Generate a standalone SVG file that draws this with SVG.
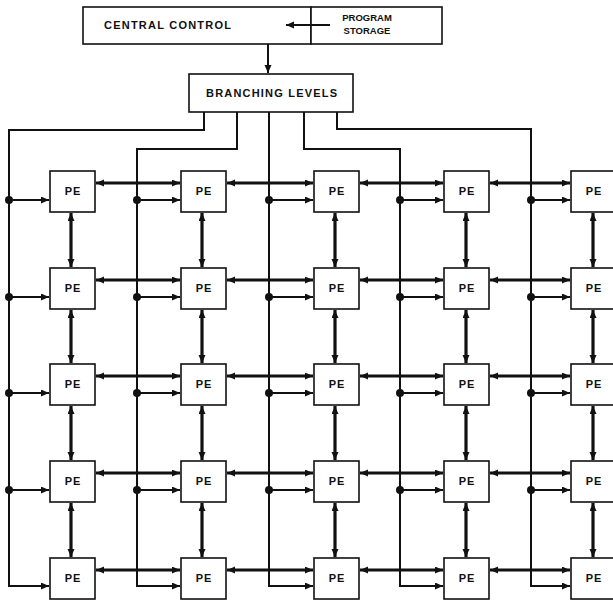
<svg xmlns="http://www.w3.org/2000/svg" width="613" height="601" viewBox="0 0 613 601">
  <defs>
    <marker id="arr" markerUnits="userSpaceOnUse" markerWidth="9" markerHeight="8" refX="8" refY="3.5" orient="auto-start-reverse">
      <path d="M0,0 L8,3.5 L0,7 z" fill="#111"/>
    </marker>
  </defs>
  <style>
    .box { fill: #fff; stroke: #111; stroke-width: 1.6; }
    .lbl { font-family: "Liberation Sans", Arial, sans-serif; font-weight: bold; fill: #111; }
    .pe { font-size: 11px; text-anchor: middle; letter-spacing: 1px; }
    .bus { fill: none; stroke: #111; stroke-width: 2; }
    .feed { fill: none; stroke: #111; stroke-width: 2; marker-end: url(#arr); }
    .link { fill: none; stroke: #111; stroke-width: 3.2; marker-start: url(#arr); marker-end: url(#arr); }
    .dot { fill: #111; }
  </style>
  <rect width="613" height="601" fill="#fff"/>

  <!-- control section -->
  <g id="central-control">
    <rect class="box" x="83" y="7" width="228" height="37"/>
    <text class="lbl" x="104" y="29" font-size="11" textLength="127" lengthAdjust="spacing">CENTRAL CONTROL</text>
  </g>
  <g id="program-storage">
    <rect class="box" x="311" y="7" width="131" height="37"/>
    <text class="lbl" x="367" y="21" font-size="9.5" text-anchor="middle">PROGRAM</text>
    <text class="lbl" x="367" y="34" font-size="9.5" text-anchor="middle">STORAGE</text>
  </g>
  <g id="branching-levels">
    <rect class="box" x="189" y="74" width="164" height="38"/>
    <text class="lbl" x="206" y="97" font-size="11" textLength="131" lengthAdjust="spacing">BRANCHING LEVELS</text>
  </g>

  <!-- connectors -->
  <g id="connectors">
    <line class="feed" x1="330" y1="25" x2="286" y2="25"/>
    <line class="feed" x1="268" y1="44" x2="268" y2="73"/>

    <!-- distribution buses -->
    <path class="bus" d="M204,112 V130 H9 V587"/>
    <path class="bus" d="M237,112 V149 H137 V587"/>
    <path class="bus" d="M269,112 V587"/>
    <path class="bus" d="M304,112 V149 H400 V587"/>
    <path class="bus" d="M337,112 V129 H531 V587"/>

    <!-- bus feeds into first PE of each column -->
    <g id="feeds">
      <path class="feed" d="M9,200 H49"/><path class="feed" d="M9,297 H49"/><path class="feed" d="M9,393 H49"/><path class="feed" d="M9,490 H49"/><path class="feed" d="M9,586 H49"/>
      <path class="feed" d="M137,200 H180"/><path class="feed" d="M137,297 H180"/><path class="feed" d="M137,393 H180"/><path class="feed" d="M137,490 H180"/><path class="feed" d="M137,586 H180"/>
      <path class="feed" d="M269,200 H313"/><path class="feed" d="M269,297 H313"/><path class="feed" d="M269,393 H313"/><path class="feed" d="M269,490 H313"/><path class="feed" d="M269,586 H313"/>
      <path class="feed" d="M400,200 H443"/><path class="feed" d="M400,297 H443"/><path class="feed" d="M400,393 H443"/><path class="feed" d="M400,490 H443"/><path class="feed" d="M400,586 H443"/>
      <path class="feed" d="M531,200 H570"/><path class="feed" d="M531,297 H570"/><path class="feed" d="M531,393 H570"/><path class="feed" d="M531,490 H570"/><path class="feed" d="M531,586 H570"/>
    </g>
    <g id="taps">
      <circle class="dot" cx="9" cy="200" r="4"/><circle class="dot" cx="9" cy="297" r="4"/><circle class="dot" cx="9" cy="393" r="4"/><circle class="dot" cx="9" cy="490" r="4"/>
      <circle class="dot" cx="137" cy="200" r="4"/><circle class="dot" cx="137" cy="297" r="4"/><circle class="dot" cx="137" cy="393" r="4"/><circle class="dot" cx="137" cy="490" r="4"/>
      <circle class="dot" cx="269" cy="200" r="4"/><circle class="dot" cx="269" cy="297" r="4"/><circle class="dot" cx="269" cy="393" r="4"/><circle class="dot" cx="269" cy="490" r="4"/>
      <circle class="dot" cx="400" cy="200" r="4"/><circle class="dot" cx="400" cy="297" r="4"/><circle class="dot" cx="400" cy="393" r="4"/><circle class="dot" cx="400" cy="490" r="4"/>
      <circle class="dot" cx="531" cy="200" r="4"/><circle class="dot" cx="531" cy="297" r="4"/><circle class="dot" cx="531" cy="393" r="4"/><circle class="dot" cx="531" cy="490" r="4"/>
    </g>

    <!-- horizontal neighbour links -->
    <g id="row-links">
      <line class="link" x1="96" y1="183" x2="180" y2="183"/><line class="link" x1="227" y1="183" x2="313" y2="183"/><line class="link" x1="360" y1="183" x2="443" y2="183"/><line class="link" x1="490" y1="183" x2="570" y2="183"/>
      <line class="link" x1="96" y1="280" x2="180" y2="280"/><line class="link" x1="227" y1="280" x2="313" y2="280"/><line class="link" x1="360" y1="280" x2="443" y2="280"/><line class="link" x1="490" y1="280" x2="570" y2="280"/>
      <line class="link" x1="96" y1="376" x2="180" y2="376"/><line class="link" x1="227" y1="376" x2="313" y2="376"/><line class="link" x1="360" y1="376" x2="443" y2="376"/><line class="link" x1="490" y1="376" x2="570" y2="376"/>
      <line class="link" x1="96" y1="473" x2="180" y2="473"/><line class="link" x1="227" y1="473" x2="313" y2="473"/><line class="link" x1="360" y1="473" x2="443" y2="473"/><line class="link" x1="490" y1="473" x2="570" y2="473"/>
      <line class="link" x1="96" y1="570" x2="180" y2="570"/><line class="link" x1="227" y1="570" x2="313" y2="570"/><line class="link" x1="360" y1="570" x2="443" y2="570"/><line class="link" x1="490" y1="570" x2="570" y2="570"/>
    </g>
    <!-- vertical neighbour links -->
    <g id="col-links">
      <line class="link" x1="71" y1="213" x2="71" y2="267"/><line class="link" x1="71" y1="310" x2="71" y2="363"/><line class="link" x1="71" y1="406" x2="71" y2="460"/><line class="link" x1="71" y1="503" x2="71" y2="557"/>
      <line class="link" x1="202" y1="213" x2="202" y2="267"/><line class="link" x1="202" y1="310" x2="202" y2="363"/><line class="link" x1="202" y1="406" x2="202" y2="460"/><line class="link" x1="202" y1="503" x2="202" y2="557"/>
      <line class="link" x1="335" y1="213" x2="335" y2="267"/><line class="link" x1="335" y1="310" x2="335" y2="363"/><line class="link" x1="335" y1="406" x2="335" y2="460"/><line class="link" x1="335" y1="503" x2="335" y2="557"/>
      <line class="link" x1="466" y1="213" x2="466" y2="267"/><line class="link" x1="466" y1="310" x2="466" y2="363"/><line class="link" x1="466" y1="406" x2="466" y2="460"/><line class="link" x1="466" y1="503" x2="466" y2="557"/>
      <line class="link" x1="593" y1="213" x2="593" y2="267"/><line class="link" x1="593" y1="310" x2="593" y2="363"/><line class="link" x1="593" y1="406" x2="593" y2="460"/><line class="link" x1="593" y1="503" x2="593" y2="557"/>
    </g>
  </g>

  <!-- processing elements, row by row -->
  <g id="pe-1-1"><rect class="box" x="50" y="171" width="45" height="41"/><text class="lbl pe" x="73" y="195">PE</text></g>
  <g id="pe-1-2"><rect class="box" x="181" y="171" width="45" height="41"/><text class="lbl pe" x="204" y="195">PE</text></g>
  <g id="pe-1-3"><rect class="box" x="314" y="171" width="45" height="41"/><text class="lbl pe" x="337" y="195">PE</text></g>
  <g id="pe-1-4"><rect class="box" x="444" y="171" width="45" height="41"/><text class="lbl pe" x="467" y="195">PE</text></g>
  <g id="pe-1-5"><rect class="box" x="571" y="171" width="45" height="41"/><text class="lbl pe" x="594" y="195">PE</text></g>

  <g id="pe-2-1"><rect class="box" x="50" y="268" width="45" height="41"/><text class="lbl pe" x="73" y="292">PE</text></g>
  <g id="pe-2-2"><rect class="box" x="181" y="268" width="45" height="41"/><text class="lbl pe" x="204" y="292">PE</text></g>
  <g id="pe-2-3"><rect class="box" x="314" y="268" width="45" height="41"/><text class="lbl pe" x="337" y="292">PE</text></g>
  <g id="pe-2-4"><rect class="box" x="444" y="268" width="45" height="41"/><text class="lbl pe" x="467" y="292">PE</text></g>
  <g id="pe-2-5"><rect class="box" x="571" y="268" width="45" height="41"/><text class="lbl pe" x="594" y="292">PE</text></g>

  <g id="pe-3-1"><rect class="box" x="50" y="364" width="45" height="41"/><text class="lbl pe" x="73" y="388">PE</text></g>
  <g id="pe-3-2"><rect class="box" x="181" y="364" width="45" height="41"/><text class="lbl pe" x="204" y="388">PE</text></g>
  <g id="pe-3-3"><rect class="box" x="314" y="364" width="45" height="41"/><text class="lbl pe" x="337" y="388">PE</text></g>
  <g id="pe-3-4"><rect class="box" x="444" y="364" width="45" height="41"/><text class="lbl pe" x="467" y="388">PE</text></g>
  <g id="pe-3-5"><rect class="box" x="571" y="364" width="45" height="41"/><text class="lbl pe" x="594" y="388">PE</text></g>

  <g id="pe-4-1"><rect class="box" x="50" y="461" width="45" height="41"/><text class="lbl pe" x="73" y="485">PE</text></g>
  <g id="pe-4-2"><rect class="box" x="181" y="461" width="45" height="41"/><text class="lbl pe" x="204" y="485">PE</text></g>
  <g id="pe-4-3"><rect class="box" x="314" y="461" width="45" height="41"/><text class="lbl pe" x="337" y="485">PE</text></g>
  <g id="pe-4-4"><rect class="box" x="444" y="461" width="45" height="41"/><text class="lbl pe" x="467" y="485">PE</text></g>
  <g id="pe-4-5"><rect class="box" x="571" y="461" width="45" height="41"/><text class="lbl pe" x="594" y="485">PE</text></g>

  <g id="pe-5-1"><rect class="box" x="50" y="558" width="45" height="41"/><text class="lbl pe" x="73" y="582">PE</text></g>
  <g id="pe-5-2"><rect class="box" x="181" y="558" width="45" height="41"/><text class="lbl pe" x="204" y="582">PE</text></g>
  <g id="pe-5-3"><rect class="box" x="314" y="558" width="45" height="41"/><text class="lbl pe" x="337" y="582">PE</text></g>
  <g id="pe-5-4"><rect class="box" x="444" y="558" width="45" height="41"/><text class="lbl pe" x="467" y="582">PE</text></g>
  <g id="pe-5-5"><rect class="box" x="571" y="558" width="45" height="41"/><text class="lbl pe" x="594" y="582">PE</text></g>
</svg>
